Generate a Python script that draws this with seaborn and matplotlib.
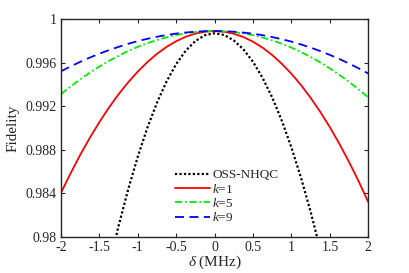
import numpy as np
import pandas as pd
import seaborn as sns
import matplotlib.pyplot as plt

# detuning values (MHz)
delta = [-2, -1.875, -1.75, -1.625, -1.5, -1.375, -1.25, -1.125, -1,
         -0.875, -0.75, -0.625, -0.5, -0.375, -0.25, -0.125, 0,
         0.125, 0.25, 0.375, 0.5, 0.625, 0.75, 0.875, 1,
         1.125, 1.25, 1.375, 1.5, 1.625, 1.75, 1.875, 2]

# fidelities
f_oss = [0.95334, 0.95883, 0.96397, 0.96876, 0.97319, 0.97726, 0.98098, 0.98435, 0.98736,
         0.99002, 0.99232, 0.99427, 0.99587, 0.99711, 0.99799, 0.99852, 0.99870,
         0.99854, 0.99804, 0.99722, 0.99607, 0.99459, 0.99279, 0.99065, 0.98819,
         0.98540, 0.98228, 0.97883, 0.97505, 0.97095, 0.96651, 0.96175, 0.95666]
f_k1 = [0.98402, 0.98582, 0.98751, 0.98908, 0.99053, 0.99187, 0.99309, 0.99419, 0.99518,
        0.99605, 0.99681, 0.99745, 0.99797, 0.99838, 0.99867, 0.99884, 0.99890,
        0.99884, 0.99865, 0.99835, 0.99792, 0.99737, 0.99669, 0.99589, 0.99497,
        0.99393, 0.99276, 0.99147, 0.99006, 0.98852, 0.98686, 0.98508, 0.98318]
f_k5 = [0.99310, 0.99380, 0.99446, 0.99507, 0.99564, 0.99616, 0.99663, 0.99707, 0.99745,
        0.99779, 0.99808, 0.99833, 0.99854, 0.99870, 0.99881, 0.99888, 0.99890,
        0.99888, 0.99880, 0.99869, 0.99852, 0.99830, 0.99804, 0.99773, 0.99738,
        0.99697, 0.99652, 0.99602, 0.99547, 0.99487, 0.99423, 0.99354, 0.99280]
f_k9 = [0.99520, 0.99565, 0.99607, 0.99646, 0.99682, 0.99715, 0.99745, 0.99773, 0.99798,
        0.99819, 0.99838, 0.99854, 0.99867, 0.99877, 0.99884, 0.99889, 0.99890,
        0.99888, 0.99884, 0.99876, 0.99866, 0.99852, 0.99835, 0.99815, 0.99793,
        0.99767, 0.99738, 0.99706, 0.99671, 0.99633, 0.99591, 0.99547, 0.99500]

labels = ['OSS-NHQC', '$k$=1', '$k$=5', '$k$=9']
yticks = [0.98, 0.984, 0.988, 0.992, 0.996, 1]
ytick_labels = ['0.98', '0.984', '0.988', '0.992', '0.996', '1']
xticks = [-2, -1.5, -1, -0.5, 0, 0.5, 1, 1.5, 2]
xtick_labels = ['-2', '-1.5', '-1', '-0.5', '0', '0.5', '1', '1.5', '2']

sns.set_style('ticks')
plt.rcParams['font.family'] = ['Liberation Serif', 'DejaVu Serif']
plt.rcParams['mathtext.fontset'] = 'custom'
plt.rcParams['mathtext.it'] = 'Liberation Serif:italic'
plt.rcParams['mathtext.rm'] = 'Liberation Serif'

fig = plt.figure(figsize=(4.09, 2.73), dpi=100)
ax = fig.add_axes([0.149, 0.133, 0.7515, 0.797])

styles = [
    dict(color='black', linestyle=(0, (1, 1)), linewidth=1.6),
    dict(color='#ff0000', linestyle='-', linewidth=1.3),
    dict(color='#00ee00', linestyle=(0, (4, 1.5, 1, 1.5)), linewidth=1.3),
    dict(color='#0000ff', linestyle=(0, (5, 3)), linewidth=1.3),
]
for vals, lab, st in zip([f_oss, f_k1, f_k5, f_k9], labels, styles):
    sns.lineplot(x=delta, y=vals, ax=ax, label=lab, **st)

ax.set_xlim(-2, 2)
ax.set_ylim(0.98, 1)
ax.set_xticks(xticks)
ax.set_xticklabels(xtick_labels)
ax.set_yticks(yticks)
ax.set_yticklabels(ytick_labels)
ax.tick_params(direction='in', top=True, right=True, labelsize=10,
               length=3, width=0.8, color='#262626', labelcolor='#262626',
               pad=3)
for s in ax.spines.values():
    s.set_linewidth(1.0)
    s.set_color('#262626')

ax.set_xlabel(r'$\delta$ (MHz)', fontsize=11, color='#262626', labelpad=0)
ax.set_ylabel('Fidelity', fontsize=11, color='#262626', labelpad=4)

ax.legend(loc='lower center', bbox_to_anchor=(0.54, 0.015), frameon=False,
          fontsize=9.5, handlelength=2.6, handletextpad=0.2, labelspacing=0.1,
          borderpad=0.2)

fig.savefig('out.png', dpi=100)
